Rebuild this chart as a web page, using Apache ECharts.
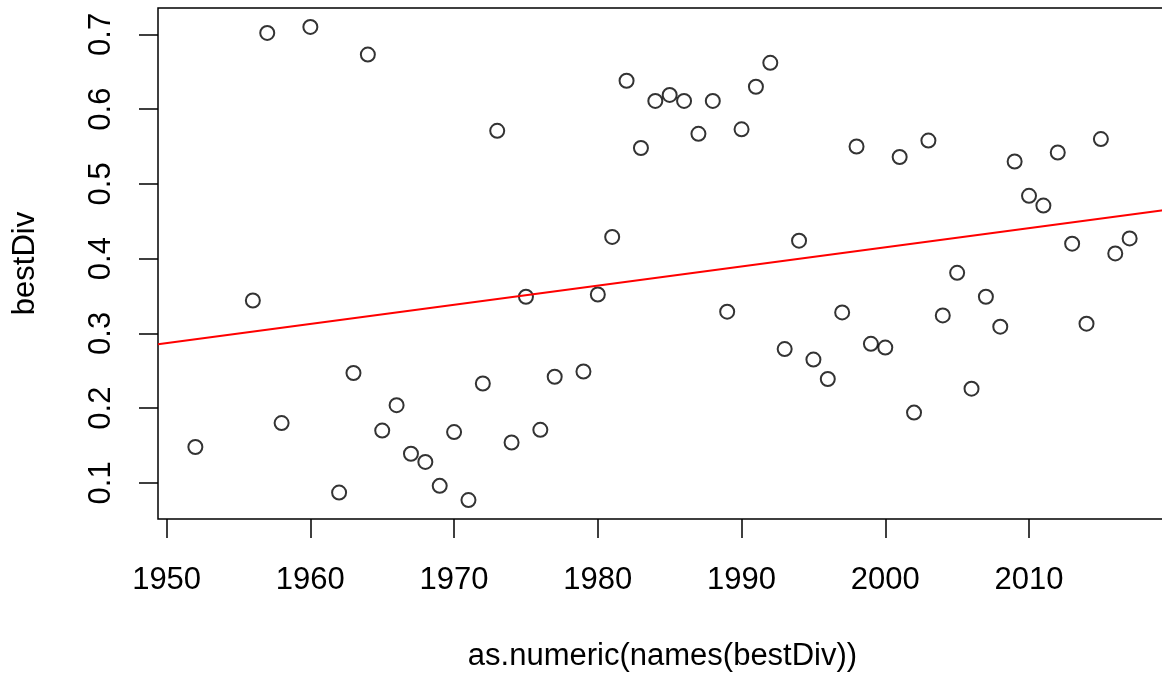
<!DOCTYPE html>
<html>
<head>
<meta charset="utf-8">
<script src="https://cdn.jsdelivr.net/npm/echarts@6/dist/echarts.min.js"></script>
<style>
  html, body { margin: 0; padding: 0; background: #fff; overflow: hidden; }
  #chart { width: 1175px; height: 673px; }
</style>
</head>
<body>
<div id="chart"></div>
<script>
// years (1978 has no value)
const years = [
  1952, 1956, 1957, 1958, 1960, 1962, 1963, 1964, 1965, 1966,
  1967, 1968, 1969, 1970, 1971, 1972, 1973, 1974, 1975, 1976,
  1977, 1979, 1980, 1981, 1982, 1983, 1984, 1985, 1986, 1987,
  1988, 1989, 1990, 1991, 1992, 1993, 1994, 1995, 1996, 1997,
  1998, 1999, 2000, 2001, 2002, 2003, 2004, 2005, 2006, 2007,
  2008, 2009, 2010, 2011, 2012, 2013, 2014, 2015, 2016, 2017
];
const bestDiv = [
  0.148, 0.344, 0.702, 0.180, 0.710, 0.087, 0.247, 0.673, 0.170, 0.204,
  0.139, 0.128, 0.096, 0.168, 0.077, 0.233, 0.571, 0.154, 0.349, 0.171,
  0.242, 0.249, 0.352, 0.429, 0.638, 0.548, 0.611, 0.619, 0.611, 0.567,
  0.611, 0.329, 0.573, 0.630, 0.662, 0.279, 0.424, 0.265, 0.239, 0.328,
  0.550, 0.286, 0.281, 0.536, 0.194, 0.558, 0.324, 0.381, 0.226, 0.349,
  0.309, 0.530, 0.484, 0.471, 0.542, 0.420, 0.313, 0.560, 0.407, 0.427
];
const xTicks = [1950, 1960, 1970, 1980, 1990, 2000, 2010];
const yTicks = [0.1, 0.2, 0.3, 0.4, 0.5, 0.6, 0.7];

// R-style axis ranges: data range extended by 4% each side
const xMinD = Math.min(...years), xMaxD = Math.max(...years);
const yMinD = Math.min(...bestDiv), yMaxD = Math.max(...bestDiv);
const xPad = (xMaxD - xMinD) * 0.04, yPad = (yMaxD - yMinD) * 0.04;
const xMin = xMinD - xPad, xMax = xMaxD + xPad;
const yMin = yMinD - yPad, yMax = yMaxD + yPad;

// abline(lm(bestDiv ~ year))
const n = years.length;
const mx = years.reduce((a, b) => a + b, 0) / n;
const my = bestDiv.reduce((a, b) => a + b, 0) / n;
let sxy = 0, sxx = 0;
for (let i = 0; i < n; i++) {
  sxy += (years[i] - mx) * (bestDiv[i] - my);
  sxx += (years[i] - mx) * (years[i] - mx);
}
const slope = sxy / sxx;
const icpt = my - slope * mx;

const font = '"Liberation Sans", Arial, sans-serif';

const chart = echarts.init(document.getElementById('chart'), null, { renderer: 'canvas' });

const option = {
  animation: false,
  backgroundColor: '#fff',
  grid: {
    show: true,
    left: 158,
    top: 8,
    width: 1009,
    height: 511,
    outerBoundsMode: 'none',
    containLabel: false,
    borderColor: '#000',
    borderWidth: 1.5,
    backgroundColor: 'transparent'
  },
  xAxis: {
    type: 'value',
    min: xMin,
    max: xMax,
    name: 'as.numeric(names(bestDiv))',
    nameLocation: 'middle',
    nameGap: 122,
    nameTextStyle: { fontFamily: font, fontSize: 31, color: '#000' },
    axisLine: { show: false },
    splitLine: { show: false },
    axisTick: {
      show: true,
      length: 19,
      customValues: xTicks,
      lineStyle: { color: '#000', width: 1.5 }
    },
    axisLabel: {
      customValues: xTicks,
      margin: 46,
      fontFamily: font,
      fontSize: 31,
      color: '#000',
      formatter: v => String(v)
    }
  },
  yAxis: {
    type: 'value',
    min: yMin,
    max: yMax,
    name: 'bestDiv',
    nameLocation: 'middle',
    nameRotate: 90,
    nameGap: 117,
    nameTextStyle: { fontFamily: font, fontSize: 31, color: '#000' },
    axisLine: { show: false },
    splitLine: { show: false },
    axisTick: {
      show: true,
      length: 19,
      customValues: yTicks,
      lineStyle: { color: '#000', width: 1.5 }
    },
    axisLabel: {
      customValues: yTicks,
      rotate: 90,
      margin: 41,
      fontFamily: font,
      fontSize: 31,
      color: '#000',
      formatter: v => String(v)
    }
  },
  series: [
    {
      type: 'scatter',
      data: years.map((y, i) => [y, bestDiv[i]]),
      symbol: 'circle',
      symbolSize: 14,
      itemStyle: {
        color: 'rgba(0,0,0,0)',
        borderColor: '#000',
        borderWidth: 2
      },
      emphasis: { disabled: true }
    },
    {
      type: 'line',
      data: [[xMin, icpt + slope * xMin], [xMax, icpt + slope * xMax]],
      showSymbol: false,
      symbol: 'none',
      lineStyle: { color: '#ff0000', width: 2 },
      silent: true
    }
  ]
};

chart.setOption(option);
</script>
</body>
</html>
